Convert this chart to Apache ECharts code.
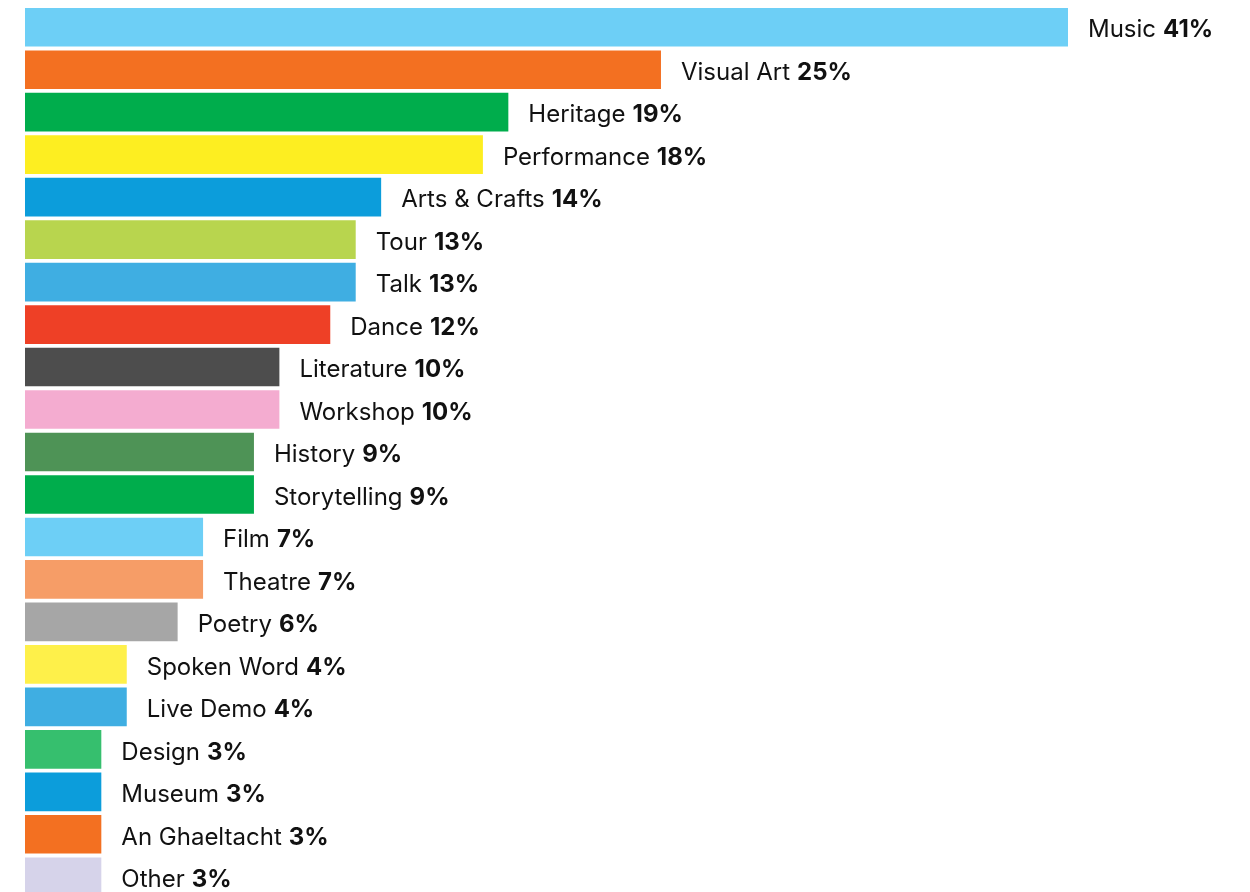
<!DOCTYPE html>
<html>
<head>
<meta charset="utf-8">
<script src="https://cdn.jsdelivr.net/npm/echarts@6/dist/echarts.min.js"></script>
<style>html,body{margin:0;padding:0;background:#fff;overflow:hidden;}#c{width:1250px;height:898px;}</style>
</head>
<body>
<div id="c"></div>
<script>
const categories = ["Music","Visual Art","Heritage","Performance","Arts & Crafts","Tour","Talk","Dance","Literature","Workshop","History","Storytelling","Film","Theatre","Poetry","Spoken Word","Live Demo","Design","Museum","An Ghaeltacht","Other"];
const values = [41,25,19,18,14,13,13,12,10,10,9,9,7,7,6,4,4,3,3,3,3];
const colors = ["#6dcff6","#f37021","#00ad4c","#fdee21","#0c9ddb","#b8d54e","#3faee2","#ee4026","#4d4d4d","#f4acd0","#4e9356","#00ad4c","#6dcff6","#f69d67","#a6a6a6","#fef04a","#3faee2","#36bf6e","#0c9ddb","#f37021","#d6d3ea"];

const chart = echarts.init(document.getElementById('c'));
chart.setOption({
  animation: false,
  grid: {left: 25, right: 182, top: 6, bottom: 0, containLabel: false},
  xAxis: {type: 'value', min: 0, max: 41, show: false},
  yAxis: {type: 'category', data: categories, inverse: true, show: false},
  series: [{
    type: 'bar',
    barCategoryGap: '9%',
    data: values.map((v, i) => ({value: v, itemStyle: {color: colors[i]}})),
    label: {
      show: true,
      position: 'right',
      distance: 20,
      offset: [0, 3],
      formatter: p => '{n|' + p.name + '}{s| }{b|' + p.value + '%}',
      rich: {
        n: {fontFamily: 'Inter', fontSize: 24, color: '#111', fontWeight: 400},
        s: {fontFamily: 'Inter', fontSize: 24, width: 7},
        b: {fontFamily: 'Inter', fontSize: 24, color: '#111', fontWeight: 700}
      }
    }
  }]
});
</script>
</body>
</html>
